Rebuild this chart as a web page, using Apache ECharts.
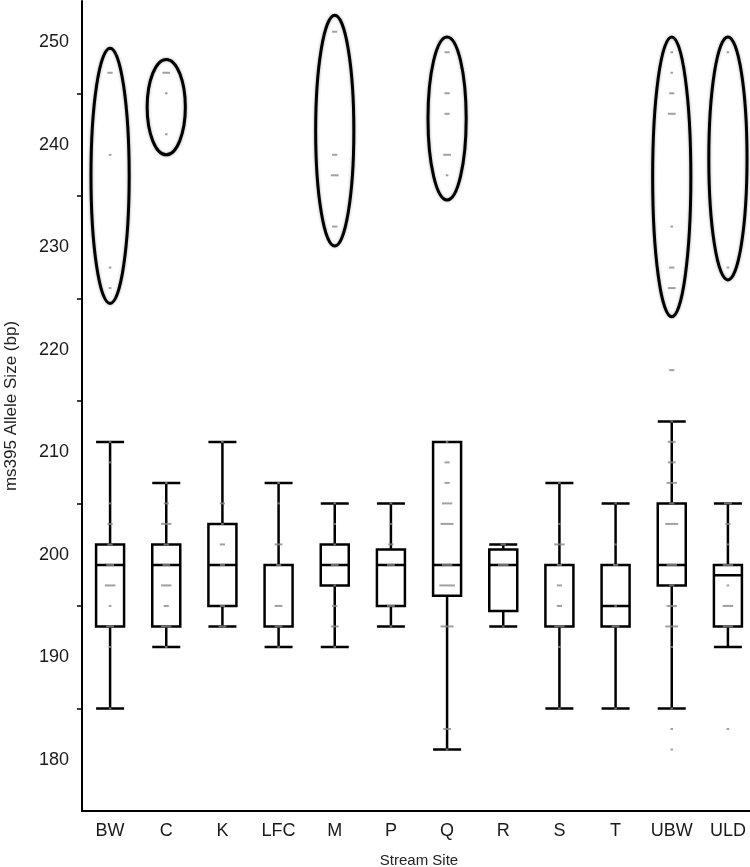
<!DOCTYPE html>
<html>
<head>
<meta charset="utf-8">
<script src="https://cdn.jsdelivr.net/npm/echarts@6.0.0/dist/echarts.min.js"></script>
<style>
  html, body { margin: 0; padding: 0; background: #fff; }
  #chart { width: 750px; height: 867px; }
</style>
</head>
<body>
<div id="chart"></div>
<script>
// stream sites on the x axis
const sites = ['BW', 'C', 'K', 'LFC', 'M', 'P', 'Q', 'R', 'S', 'T', 'UBW', 'ULD']

// box plot summary per site (bp)
const whiskerLow = [185, 191, 193, 191, 191, 193, 181, 193, 185, 185, 185, 191]
const quartile1 = [193, 193, 195, 193, 197, 195, 196, 194.5, 193, 193, 197, 193]
const medians = [199, 199, 199, 199, 199, 199, 199, 199, 199, 195, 199, 198]
const quartile3 = [201, 201, 203, 199, 201, 200.5, 211, 200.5, 199, 199, 205, 199]
const whiskerHigh = [211, 207, 211, 207, 205, 205, 211, 201, 207, 205, 213, 205]

// individual alleles per site: [size, number of fish]
const allelesBW = [[185, 1], [191, 1], [193, 3], [195, 1], [197, 4], [199, 3], [201, 2], [203, 2], [205, 1], [209, 1], [211, 1], [226, 1], [228, 1], [239, 1], [247, 2]]
const allelesC = [[191, 1], [193, 4], [195, 2], [197, 4], [199, 3], [201, 2], [203, 4], [205, 2], [207, 1], [241, 1], [245, 1], [247, 3]]
const allelesK = [[193, 3], [195, 2], [199, 2], [201, 2], [203, 1], [205, 2], [211, 1]]
const allelesLFC = [[191, 1], [193, 3], [195, 3], [199, 2], [201, 3], [205, 1], [207, 1]]
const allelesM = [[191, 1], [193, 3], [195, 2], [197, 1], [199, 3], [201, 1], [203, 1], [205, 1], [232, 2], [237, 3], [239, 2], [251, 2]]
const allelesP = [[193, 1], [195, 3], [199, 3], [201, 2], [203, 1], [205, 1]]
const allelesQ = [[181, 1], [183, 3], [193, 5], [197, 6], [199, 4], [203, 5], [205, 4], [207, 2], [209, 2], [211, 1], [237, 1], [239, 3], [243, 2], [245, 2], [249, 2]]
const allelesR = [[193, 1], [199, 4], [201, 2]]
const allelesS = [[185, 1], [191, 1], [193, 4], [195, 2], [197, 2], [199, 2], [201, 4], [203, 1], [207, 1]]
const allelesT = [[185, 1], [193, 3], [195, 1], [199, 2], [201, 1], [205, 1]]
const allelesUBW = [[181, 1], [183, 1], [185, 1], [191, 1], [193, 5], [195, 4], [197, 2], [199, 4], [203, 5], [205, 2], [207, 4], [209, 3], [211, 3], [213, 1], [218, 2], [226, 3], [228, 2], [232, 1], [243, 3], [245, 2], [247, 1], [249, 1]]
const allelesULD = [[183, 1], [193, 4], [195, 4], [197, 1], [199, 4], [201, 1], [203, 2], [205, 3], [228, 1], [249, 1]]
const allelesBySite = [allelesBW, allelesC, allelesK, allelesLFC, allelesM, allelesP, allelesQ, allelesR, allelesS, allelesT, allelesUBW, allelesULD]

// circled groups of large alleles: site, lower end, upper end (bp)
const ringSites = ['BW', 'C', 'M', 'Q', 'UBW', 'ULD']
const ringLow = [224.5, 239, 230.1, 234.6, 223.2, 226.8]
const ringHigh = [249.4, 248.3, 252.6, 250.5, 250.5, 250.5]

// y axis labels and the unlabelled ticks between them
const yLabels = [180, 190, 200, 210, 220, 230, 240, 250]
const yTicks = [185, 195, 205, 215, 225, 235, 245]

let boxData = []
for (let i = 0; i < sites.length; i++) {
  boxData.push([whiskerLow[i], quartile1[i], medians[i], quartile3[i], whiskerHigh[i]])
}
let pointData = []
allelesBySite.forEach(function (list, i) {
  list.forEach(function (a) {
    pointData.push([i, a[0], a[1]])
  })
})
let ringData = []
for (let i = 0; i < ringSites.length; i++) {
  ringData.push([sites.indexOf(ringSites[i]), ringLow[i], ringHigh[i]])
}

let fontName = '"Liberation Sans", Arial, sans-serif'
let myChart = echarts.init(document.getElementById('chart'))
let option = {
  animation: false,
  backgroundColor: '#fff',
  grid: {
    left: 82,
    right: -6,
    top: 1,
    bottom: 56,
    outerBoundsMode: 'none'
  },
  xAxis: {
    type: 'category',
    data: sites,
    boundaryGap: true,
    name: 'Stream Site',
    nameLocation: 'middle',
    nameGap: 42,
    nameTextStyle: {
      fontFamily: fontName,
      fontSize: 15,
      color: '#222'
    },
    axisLine: {
      lineStyle: { color: '#000', width: 2 }
    },
    axisTick: { show: false },
    axisLabel: {
      fontFamily: fontName,
      fontSize: 18,
      color: '#1a1a1a',
      margin: 11
    },
    splitLine: { show: false }
  },
  yAxis: {
    type: 'value',
    min: 175,
    max: 254,
    name: 'ms395 Allele Size (bp)',
    nameLocation: 'middle',
    nameGap: 62,
    nameTextStyle: {
      fontFamily: fontName,
      fontSize: 17,
      color: '#222'
    },
    axisLine: {
      show: true,
      lineStyle: { color: '#000', width: 2 }
    },
    axisTick: {
      show: true,
      length: 5,
      customValues: yTicks,
      lineStyle: { color: '#000', width: 1.5 }
    },
    axisLabel: {
      customValues: yLabels,
      fontFamily: fontName,
      fontSize: 18,
      color: '#1a1a1a',
      margin: 13
    },
    splitLine: { show: false }
  },
  series: [
    {
      type: 'boxplot',
      data: boxData,
      boxWidth: [28, 28],
      silent: true,
      itemStyle: {
        color: '#fff',
        borderColor: '#000',
        borderWidth: 2.5
      },
      z: 2
    },
    {
      type: 'scatter',
      data: pointData,
      symbol: 'rect',
      symbolSize: function (val) {
        return [val[2] * 2.6, 2]
      },
      itemStyle: { color: '#8a8a8a' },
      silent: true,
      z: 4
    },
    {
      type: 'custom',
      data: ringData,
      encode: { x: 0, y: [1, 2] },
      silent: true,
      z: 5,
      renderItem: function (params, api) {
        let top = api.coord([api.value(0), api.value(2)])
        let bottom = api.coord([api.value(0), api.value(1)])
        let rx = api.size([1, 0])[0] * 0.34
        return {
          type: 'ellipse',
          shape: {
            cx: top[0],
            cy: (top[1] + bottom[1]) / 2,
            rx: rx,
            ry: (bottom[1] - top[1]) / 2
          },
          style: {
            fill: 'none',
            stroke: '#000',
            lineWidth: 3,
            shadowBlur: 3,
            shadowColor: 'rgba(0,0,0,0.35)'
          }
        }
      }
    }
  ]
}
myChart.setOption(option)
</script>
</body>
</html>
